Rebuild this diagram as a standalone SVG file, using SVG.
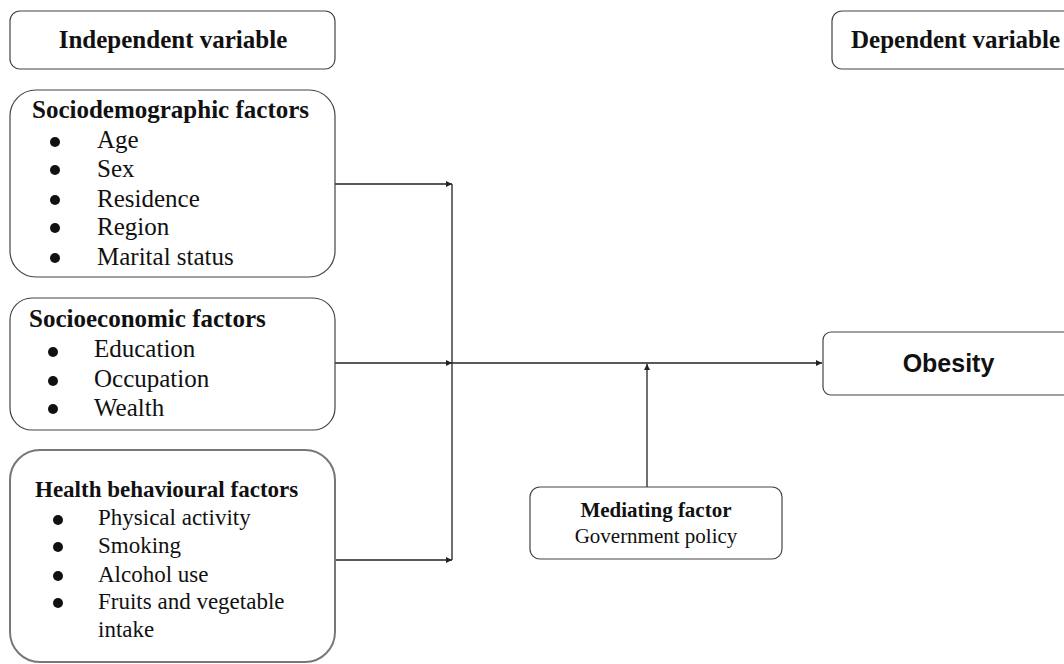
<svg xmlns="http://www.w3.org/2000/svg" width="1064" height="664" viewBox="0 0 1064 664">
<defs>
<style>
.box{fill:#fff;stroke:#444;stroke-width:1.2}
.box2{fill:#fff;stroke:#777;stroke-width:2}
.s{font-family:"Liberation Serif","Times New Roman",serif;fill:#111}
.b{font-weight:bold}
.f25{font-size:25px}
.f23{font-size:23px}
.f21{font-size:21px}
.sans{font-family:"Liberation Sans",Arial,sans-serif;font-weight:bold;font-size:25px;fill:#111}
.ln{fill:none;stroke:#222;stroke-width:1.3}
.dot{fill:#111}
</style>
<marker id="ah" viewBox="0 0 10 10" refX="10" refY="5" markerWidth="8" markerHeight="6" markerUnits="userSpaceOnUse" orient="auto">
<path d="M0,0 L10,5 L0,10 z" fill="#222"/>
</marker>
</defs>
<rect width="1064" height="664" fill="#fff"/>

<g id="connectors">
<line class="ln" x1="335" y1="184" x2="452" y2="184" marker-end="url(#ah)"/>
<line class="ln" x1="335" y1="363" x2="452" y2="363" marker-end="url(#ah)"/>
<line class="ln" x1="335" y1="560" x2="452" y2="560" marker-end="url(#ah)"/>
<line class="ln" x1="452" y1="184" x2="452" y2="560"/>
<line class="ln" x1="452" y1="363" x2="822" y2="363" marker-end="url(#ah)"/>
<line class="ln" x1="647" y1="487" x2="647" y2="364" marker-end="url(#ah)"/>
</g>

<g id="independent-variable">
<rect class="box" x="10" y="11" width="325" height="58" rx="10"/>
<text class="s b f25" x="173" y="48" text-anchor="middle">Independent variable</text>
</g>

<g id="dependent-variable">
<rect class="box" x="832" y="11" width="250" height="58" rx="10"/>
<text class="s b f25" x="851" y="48">Dependent variable</text>
</g>

<g id="sociodemographic">
<rect class="box" x="10" y="90" width="325" height="187" rx="26"/>
<text class="s b f25" x="32" y="118">Sociodemographic factors</text>
<circle class="dot" cx="55" cy="142" r="5"/>
<circle class="dot" cx="55" cy="170" r="5"/>
<circle class="dot" cx="55" cy="200" r="5"/>
<circle class="dot" cx="55" cy="228" r="5"/>
<circle class="dot" cx="55" cy="258" r="5"/>
<text class="s f25" x="97" y="148">Age</text>
<text class="s f25" x="97" y="177">Sex</text>
<text class="s f25" x="97" y="207">Residence</text>
<text class="s f25" x="97" y="235">Region</text>
<text class="s f25" x="97" y="265">Marital status</text>
</g>

<g id="socioeconomic">
<rect class="box" x="10" y="298" width="325" height="132" rx="22"/>
<text class="s b f25" x="29" y="327">Socioeconomic factors</text>
<circle class="dot" cx="53" cy="352" r="5"/>
<circle class="dot" cx="53" cy="381" r="5"/>
<circle class="dot" cx="53" cy="409" r="5"/>
<text class="s f25" x="94" y="357">Education</text>
<text class="s f25" x="94" y="387">Occupation</text>
<text class="s f25" x="94" y="416">Wealth</text>
</g>

<g id="health-behavioural">
<rect class="box2" x="10" y="450" width="325" height="212" rx="30"/>
<text class="s b f23" x="35" y="497">Health behavioural factors</text>
<circle class="dot" cx="58" cy="520" r="5"/>
<circle class="dot" cx="58" cy="547" r="5"/>
<circle class="dot" cx="58" cy="576" r="5"/>
<circle class="dot" cx="58" cy="603" r="5"/>
<text class="s f23" x="98" y="525">Physical activity</text>
<text class="s f23" x="98" y="553">Smoking</text>
<text class="s f23" x="98" y="582">Alcohol use</text>
<text class="s f23" x="98" y="609">Fruits and vegetable</text>
<text class="s f23" x="98" y="637">intake</text>
</g>

<g id="mediating-factor">
<rect class="box" x="530" y="487" width="252" height="72" rx="10"/>
<text class="s b f21" x="656" y="517" text-anchor="middle">Mediating factor</text>
<text class="s f21" x="656" y="543" text-anchor="middle">Government policy</text>
</g>

<g id="obesity">
<rect class="box" x="823" y="332" width="260" height="63" rx="8"/>
<text class="sans" x="948.5" y="372" text-anchor="middle">Obesity</text>
</g>
</svg>
